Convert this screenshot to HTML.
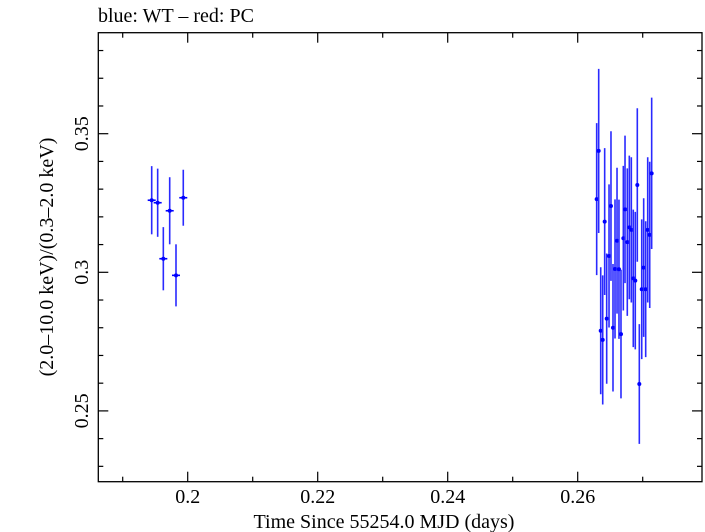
<!DOCTYPE html>
<html><head><meta charset="utf-8"><style>
body{margin:0;background:#fff}
svg{display:block;font-family:"Liberation Serif",serif}
</style></head><body>
<svg id="chart" width="705" height="532" viewBox="0 0 705 532" xmlns="http://www.w3.org/2000/svg">
<text x="98" y="22" font-size="20">blue: WT – red: PC</text>
<rect x="98.3" y="32.7" width="603.7" height="449" fill="none" stroke="#000" stroke-width="1.3"/>
<text x="384" y="528" font-size="20" text-anchor="middle">Time Since 55254.0 MJD (days)</text>
<text transform="translate(53,257) rotate(-90)" font-size="20" text-anchor="middle">(2.0–10.0 keV)/(0.3–2.0 keV)</text>
<g id="axes"></g><g id="marks"></g>
</svg>
<script>
const xTicks=[0.2,0.22,0.24,0.26];
const xTickLabels=["0.2","0.22","0.24","0.26"];
const yTicks=[0.25,0.3,0.35];
const yTickLabels=["0.25","0.3","0.35"];
const wtTime=[0.19446,0.19538,0.19625,0.19723,0.1982,0.19932];
const wtRatio=[0.3260,0.3251,0.3049,0.3222,0.2989,0.3269];
const wtErr=[0.0123,0.0123,0.0114,0.0121,0.0112,0.0101];
const pcTime=[0.26292,0.26323,0.26354,0.26385,0.26415,0.26446,0.26482,0.26512,0.26543,0.26574,0.26605,0.26635,0.26666,0.26702,0.26728,0.26763,0.26794,0.26825,0.26855,0.26886,0.26917,0.26948,0.26985,0.27015,0.27046,0.27077,0.27108,0.27138];
const pcRatio=[0.3264,0.3438,0.2789,0.2756,0.3183,0.2833,0.3059,0.3239,0.2800,0.3012,0.3114,0.3011,0.2777,0.3123,0.3227,0.3109,0.3162,0.3153,0.2978,0.2970,0.3315,0.2597,0.2939,0.3017,0.2939,0.3153,0.3135,0.3357];
const pcErr=[0.0274,0.0296,0.0229,0.0233,0.0265,0.0235,0.0258,0.0270,0.0230,0.0251,0.0263,0.0251,0.0232,0.0261,0.0266,0.0266,0.0259,0.0262,0.0248,0.0248,0.0277,0.0216,0.0252,0.0250,0.0245,0.0262,0.0264,0.0273];
const NS="http://www.w3.org/2000/svg";
const L=98.3,R=702,T=32.7,B=481.7;
const xs=v=>187.7+(v-0.2)*6500;
const ys=v=>272.3-(v-0.3)*2772;
const axes=document.getElementById('axes'),marks=document.getElementById('marks');
function mk(tag,at,parent){const e=document.createElementNS(NS,tag);for(const k in at)e.setAttribute(k,at[k]);parent.appendChild(e);return e;}
function line(x1,y1,x2,y2,parent,col,w){return mk('line',{x1:x1,y1:y1,x2:x2,y2:y2,stroke:col||'#000','stroke-width':w||1.2},parent);}
for(let i=0;i<=9;i++){const v=0.19+i*0.01;const x=xs(v);if(x<L||x>R)continue;
 const major=xTicks.some(t=>Math.abs(t-v)<1e-9);const len=major?10:5;
 const t1=line(x,B,x,B-len,axes);
 
 
 const t2=line(x,T,x,T+len,axes);
 
 }
xTicks.forEach((v,i)=>{const t=mk('text',{x:xs(v),y:503,'font-size':20,'text-anchor':'middle'},axes);t.textContent=xTickLabels[i];
 
 });
for(let i=0;i<=17;i++){const v=0.22+i*0.01;const y=ys(v);if(y<T||y>B)continue;
 const major=yTicks.some(t=>Math.abs(t-v)<1e-9);const len=major?10:5;
 const t1=line(L,y,L+len,y,axes);
 
 
 const t2=line(R,y,R-len,y,axes);
 
 }
yTicks.forEach((v,i)=>{const y=ys(v);const t=mk('text',{transform:`translate(88,${y}) rotate(-90)`,'font-size':20,'text-anchor':'middle'},axes);t.textContent=yTickLabels[i];
 
 });
function drawSeries(tx,ry,er,xhalf,name){
 tx.forEach((t,i)=>{const x=xs(t),y=ys(ry[i]);
  const g=mk('g',{},marks);
  
  
  line(x,ys(ry[i]+er[i]),x,ys(ry[i]-er[i]),g,'#2a2aff',1.6);
  line(x-xhalf,y,x+xhalf,y,g,'#0000ff',1.6);
  mk('circle',{cx:x,cy:y,r:2,fill:'#0000ff'},g);});
}
drawSeries(wtTime,wtRatio,wtErr,4,'wt-point');
drawSeries(pcTime,pcRatio,pcErr,1,'pc-point');
</script>
</body></html>
